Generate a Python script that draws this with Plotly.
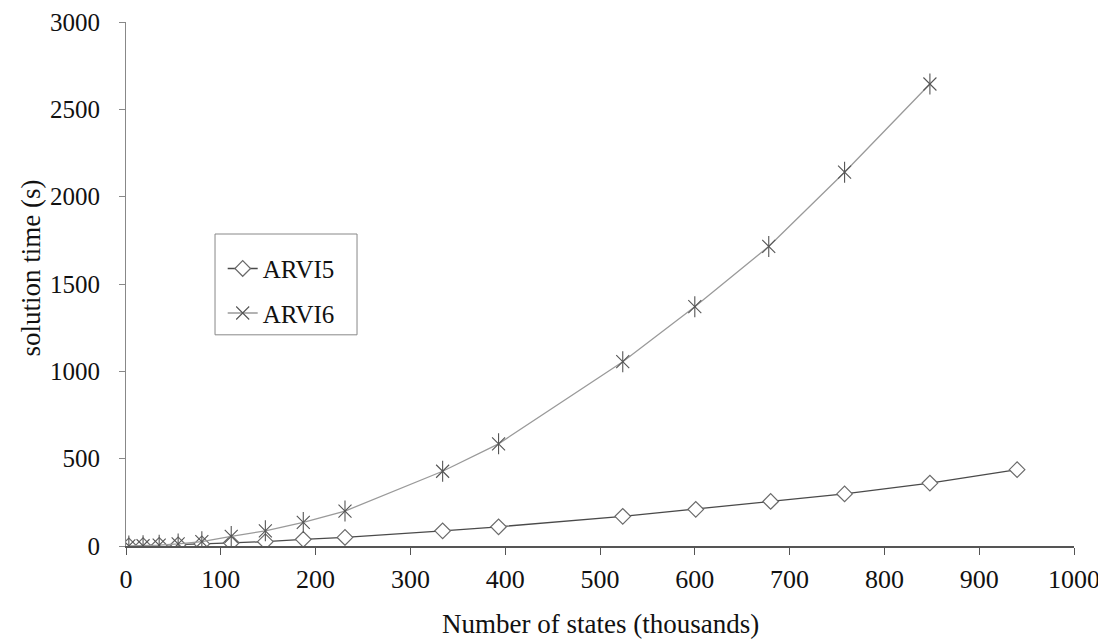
import plotly.graph_objects as go

# Data
states_arvi5 = [3, 18, 35, 55, 80, 111, 147, 187, 231, 334, 393, 524, 601, 680, 758, 848, 940]
time_arvi5 = [0.5, 2, 4, 7, 12, 18, 25, 38, 49, 87, 110, 170, 210, 255, 298, 360, 437]

states_arvi6 = [3, 18, 35, 55, 80, 111, 147, 187, 231, 334, 393, 524, 600, 678, 758, 848]
time_arvi6 = [0.3, 1.5, 5, 12, 25, 55, 87, 135, 200, 428, 585, 1055, 1370, 1715, 2140, 2645]

x_ticks = [0, 100, 200, 300, 400, 500, 600, 700, 800, 900, 1000]
y_ticks = [0, 500, 1000, 1500, 2000, 2500, 3000]

FONT = "Liberation Serif, Times New Roman, serif"

fig = go.Figure()

fig.add_trace(go.Scatter(
    x=states_arvi5, y=time_arvi5, name="ARVI5", mode="lines+markers",
    legendgroup="a5",
    line=dict(color="#4a4a4a", width=1.3),
    marker=dict(symbol="diamond", size=12, color="white",
                line=dict(color="#6a6a6a", width=1.2)),
))

fig.add_trace(go.Scatter(
    x=states_arvi6, y=time_arvi6, name="ARVI6", mode="lines+markers",
    legendgroup="a6",
    line=dict(color="#9a9a9a", width=1.3),
    marker=dict(symbol="x-thin-open", size=13, color="#555555",
                line=dict(color="#555555", width=1.1)),
))
fig.add_trace(go.Scatter(
    x=states_arvi6, y=time_arvi6, name="ARVI6", mode="markers",
    legendgroup="a6", showlegend=False,
    marker=dict(symbol="line-ns-open", size=15, color="#555555",
                line=dict(color="#555555", width=1.1)),
))

fig.update_layout(
    width=1106, height=642,
    paper_bgcolor="white", plot_bgcolor="white",
    margin=dict(l=118, r=40, t=14, b=104),
    font=dict(family=FONT, size=25, color="#111111"),
    showlegend=True,
    legend=dict(
        x=0.102, y=0.573, xanchor="left", yanchor="top",
        bgcolor="rgba(0,0,0,0)", borderwidth=0,
        font=dict(family=FONT, size=25, color="#111111"),
        tracegroupgap=9, itemwidth=30,
    ),
    shapes=[dict(
        type="rect", xref="paper", yref="paper",
        x0=0.0939, x1=0.2437, y0=0.403, y1=0.5954,
        line=dict(color="#888888", width=1), fillcolor="white", layer="below",
    )],
    annotations=[
        dict(text="solution time (s)", xref="paper", yref="paper",
             x=-0.1, y=0.53, xanchor="center", yanchor="middle",
             textangle=-90, showarrow=False,
             font=dict(family=FONT, size=27, color="#111111")),
        dict(text="Number of states (thousands)", xref="paper", yref="paper",
             x=0.5, y=-0.149, xanchor="center", yanchor="middle",
             showarrow=False,
             font=dict(family=FONT, size=27, color="#111111")),
    ],
    xaxis=dict(
        range=[0, 1000], tickvals=x_ticks, ticktext=[str(v) for v in x_ticks],
        showgrid=False, zeroline=False, automargin=False,
        showline=True, linecolor="#555555", linewidth=1.5,
        ticks="outside", ticklen=7, tickcolor="#555555", tickwidth=1,
        ticklabelstandoff=2, ticklabeloverflow="allow",
        tickfont=dict(family=FONT, size=26),
    ),
    yaxis=dict(
        range=[0, 3000], tickvals=y_ticks, ticktext=[str(v) for v in y_ticks],
        showgrid=False, zeroline=False, automargin=False,
        showline=True, linecolor="#888888", linewidth=1.2,
        ticks="outside", ticklen=6, tickcolor="#888888", tickwidth=1,
        ticklabelstandoff=14, ticklabeloverflow="allow",
        tickfont=dict(family=FONT, size=25),
    ),
)

fig.write_html("out.html")
